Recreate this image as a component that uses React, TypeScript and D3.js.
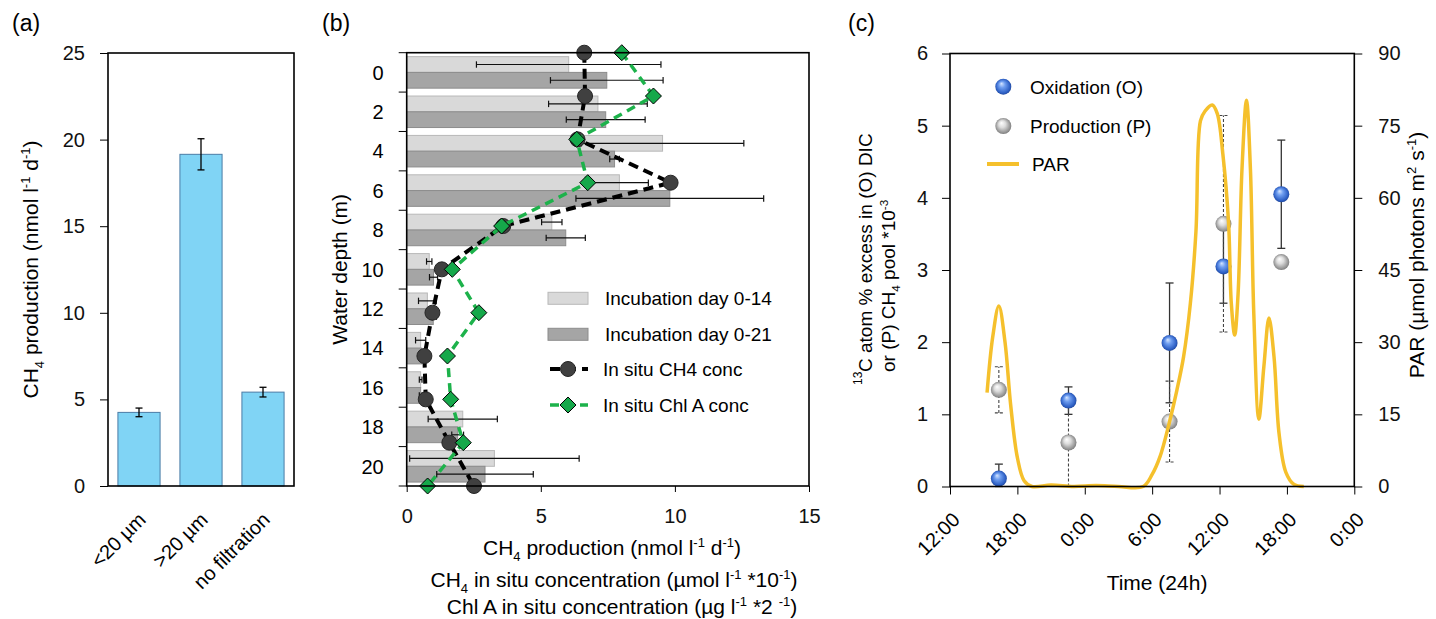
import React, { useEffect, useRef } from "react";
import * as d3 from "d3";

// ---------- (a) size fractions ----------
const fractions = ["<20 µm", ">20 µm", "no filtration"];
const fractionValues = [4.25, 19.15, 5.42];
const fractionErrors = [0.25, 0.9, 0.28];
const fractionTicks = [0, 5, 10, 15, 20, 25];

// ---------- (b) depth profile ----------
const depths = [0, 2, 4, 6, 8, 10, 12, 14, 16, 18, 20];
const day14 = [6.04, 7.13, 9.54, 7.93, 5.41, 0.84, 0.77, 0.52, 0.52, 2.09, 3.27];
const day14Err = [3.44, 1.84, 3.03, 1.08, 0.38, 0.1, 0.33, 0.19, 0.05, 1.29, 3.16];
const day21 = [7.46, 7.42, 7.75, 9.81, 5.93, 1.0, 0.99, 0.56, 0.52, 1.9, 2.92];
const day21Err = [2.1, 1.47, 0.18, 3.5, 0.73, 0.15, 0.12, 0.1, 0.05, 0.22, 1.8];
const ch4Conc = [6.62, 6.65, 6.37, 9.84, 3.6, 1.31, 0.96, 0.66, 0.71, 1.59, 2.51];
const chlA = [8.02, 9.2, 6.34, 6.75, 3.54, 1.7, 2.69, 1.52, 1.64, 2.11, 0.78];
const productionTicks = [0, 5, 10, 15];

// ---------- (c) diel cycle ----------
const timeTicks = ["12:00", "18:00", "0:00", "6:00", "12:00", "18:00", "0:00"];
const sampleHours = [4.35, 10.55, 19.55, 24.35, 29.5];
const oxValues = [0.11, 1.19, 1.99, 3.05, 4.05];
const oxErr = [0.2, 0.19, 0.83, 0.51, 0.75];
const prodValues = [1.34, 0.61, 0.9, 3.64, 3.11];
const prodErr = [0.32, 0.61, 0.56, 1.5, 0];
const parHours = [3.3, 3.8, 4.35, 4.9, 5.4, 6.0, 6.6, 7.3, 9.0, 11.0, 13.0, 15.0, 17.2, 18.0, 18.7, 19.5, 20.2, 20.8, 21.4, 21.9, 22.3, 22.7, 23.35, 23.8, 24.3, 24.8, 25.05, 25.35, 25.65, 26.0, 26.4, 26.75, 27.05, 27.5, 27.95, 28.4, 28.85, 29.3, 29.9, 30.6, 31.5];
const parValues = [19.5, 31, 37.5, 30, 17, 6, 1.2, 0, 0.3, 0, 0.2, 0, 0, 2.5, 6.2, 13, 20, 27, 38, 53, 76, 78, 79.3, 77.5, 69, 55, 38, 31.5, 40, 66, 80.3, 66, 36, 14, 25, 35, 27, 11, 3, 0.5, 0];
const leftTicks = [0, 1, 2, 3, 4, 5, 6];
const parTicks = [0, 15, 30, 45, 60, 75, 90];

const FONT = "'Liberation Sans', Arial, Helvetica, sans-serif";
const TICK_FS = 20;
const TITLE_FS = 21;
const LEGEND_FS = 19;

type Sel = d3.Selection<any, unknown, null, undefined>;

// text with sub/superscripts: parts = [text, 0 normal | 1 sup | -1 sub]
function rich(t: Sel, parts: [string, number][], size: number) {
  let shift = 0;
  parts.forEach(([s, k]) => {
    const target = k === 1 ? -size * 0.38 : k === -1 ? size * 0.28 : 0;
    t.append("tspan")
      .attr("dy", target - shift)
      .attr("font-size", k ? size * 0.62 : size)
      .text(s);
    shift = target;
  });
}

function styleAxis(g: Sel) {
  g.select(".domain").remove();
  g.selectAll(".tick line").attr("stroke", "#000").attr("stroke-width", 1);
  g.selectAll(".tick text").attr("font-size", TICK_FS).attr("font-family", FONT).attr("fill", "#111");
}

function drawA(svg: Sel) {
  const left = 108, right = 294, top = 53, bottom = 486;
  const x = d3.scaleBand().domain(fractions).range([left, right]).paddingInner(0.32).paddingOuter(0.16);
  const y = d3.scaleLinear().domain([0, 25]).range([bottom, top]);
  const g = svg.append("g");

  g.append("g")
    .attr("transform", `translate(${left},0)`)
    .call(d3.axisLeft(y).tickValues(fractionTicks).tickFormat(d3.format("d")).tickSize(8).tickPadding(15))
    .call(styleAxis);

  g.selectAll(".bar")
    .data(fractions)
    .enter()
    .append("rect")
    .attr("x", (d) => x(d)!)
    .attr("y", (d, i) => y(fractionValues[i]))
    .attr("width", x.bandwidth())
    .attr("height", (d, i) => y(0) - y(fractionValues[i]))
    .attr("fill", "#80d4f5")
    .attr("stroke", "#4b7ca6")
    .attr("stroke-width", 1);

  fractions.forEach((d, i) => {
    const cx = x(d)! + x.bandwidth() / 2;
    const lo = y(fractionValues[i] - fractionErrors[i]);
    const hi = y(fractionValues[i] + fractionErrors[i]);
    g.append("line").attr("x1", cx).attr("x2", cx).attr("y1", lo).attr("y2", hi).attr("stroke", "#000").attr("stroke-width", 1.3);
    [lo, hi].forEach((yy) =>
      g.append("line").attr("x1", cx - 3.5).attr("x2", cx + 3.5).attr("y1", yy).attr("y2", yy).attr("stroke", "#000").attr("stroke-width", 1.3)
    );
    g.append("text")
      .attr("transform", `translate(${cx + 8},521) rotate(-45)`)
      .attr("text-anchor", "end")
      .attr("font-size", TICK_FS)
      .text(d);
  });

  g.append("rect").attr("x", left).attr("y", top).attr("width", right - left).attr("height", bottom - top)
    .attr("fill", "none").attr("stroke", "#000").attr("stroke-width", 1.6);

  const t = g.append("text").attr("transform", `translate(38,${(top + bottom) / 2}) rotate(-90)`).attr("text-anchor", "middle");
  rich(t, [["CH", 0], ["4", -1], [" production (nmol l", 0], ["-1", 1], [" d", 0], ["-1", 1], [")", 0]], TITLE_FS);

  svg.append("text").attr("x", 12).attr("y", 31).attr("font-size", 23).text("(a)");
}

function drawB(svg: Sel) {
  const left = 406.7, right = 809, top = 52.7, bottom = 486;
  const x = d3.scaleLinear().domain([0, 15]).range([left, right]);
  const yBand = d3.scaleBand<number>().domain(depths).range([top, bottom]).paddingInner(0.2).paddingOuter(0.1);
  const ySub = d3.scaleBand().domain(["d14", "d21"]).range([0, yBand.bandwidth()]);
  const yPt = d3.scalePoint<number>().domain(depths).range([top, bottom]);
  const g = svg.append("g");

  // category boundary ticks
  const step = yBand.step();
  d3.range(depths.length + 1).forEach((i) => {
    const yy = top + i * step;
    g.append("line").attr("x1", left - 8).attr("x2", left).attr("y1", yy).attr("y2", yy).attr("stroke", "#000");
  });
  depths.forEach((d) => {
    g.append("text")
      .attr("x", left - 23)
      .attr("y", yBand(d)! + yBand.bandwidth() / 2)
      .attr("dy", "0.36em")
      .attr("text-anchor", "end")
      .attr("font-size", TICK_FS)
      .text(d);
  });

  g.append("g")
    .attr("transform", `translate(0,${bottom})`)
    .call(d3.axisBottom(x).tickValues(productionTicks).tickFormat(d3.format("d")).tickSize(6).tickPadding(17))
    .call(styleAxis);

  const series = [
    { key: "d14", vals: day14, err: day14Err, fill: "#d9d9d9", stroke: "#b8b8b8" },
    { key: "d21", vals: day21, err: day21Err, fill: "#a5a5a5", stroke: "#8c8c8c" },
  ];
  series.forEach((s) => {
    g.append("g")
      .selectAll("rect")
      .data(depths)
      .enter()
      .append("rect")
      .attr("x", left)
      .attr("y", (d) => yBand(d)! + ySub(s.key)!)
      .attr("width", (d, i) => x(s.vals[i]) - left)
      .attr("height", ySub.bandwidth())
      .attr("fill", s.fill)
      .attr("stroke", s.stroke)
      .attr("stroke-width", 1);
  });
  series.forEach((s) => {
    depths.forEach((d, i) => {
      const cy = yBand(d)! + ySub(s.key)! + ySub.bandwidth() / 2;
      const a = x(s.vals[i] - s.err[i]);
      const b = x(s.vals[i] + s.err[i]);
      g.append("line").attr("x1", a).attr("x2", b).attr("y1", cy).attr("y2", cy).attr("stroke", "#111").attr("stroke-width", 1.2);
      [a, b].forEach((xx) =>
        g.append("line").attr("x1", xx).attr("x2", xx).attr("y1", cy - 3.2).attr("y2", cy + 3.2).attr("stroke", "#111").attr("stroke-width", 1.2)
      );
    });
  });

  const diamond = (r: number) => `M0,${-r}L${r},0L0,${r}L${-r},0Z`;

  // in situ CH4
  const profileLine = d3.line<number>().x((v) => x(v)).y((v, i) => yPt(depths[i])!);
  g.append("path").datum(ch4Conc).attr("d", profileLine).attr("fill", "none").attr("stroke", "#000").attr("stroke-width", 4).attr("stroke-dasharray", "10,6");
  g.selectAll(".ch4").data(ch4Conc).enter().append("circle")
    .attr("cx", (v) => x(v)).attr("cy", (v, i) => yPt(depths[i])!).attr("r", 7.5)
    .attr("fill", "#404040").attr("stroke", "#262626").attr("stroke-width", 1);

  // in situ Chl A
  g.append("path").datum(chlA).attr("d", profileLine).attr("fill", "none").attr("stroke", "#1db24b").attr("stroke-width", 3.5).attr("stroke-dasharray", "9,6");
  g.selectAll(".chl").data(chlA).enter().append("path")
    .attr("d", diamond(8))
    .attr("transform", (v, i) => `translate(${x(v)},${yPt(depths[i])})`)
    .attr("fill", "#15a84a").attr("stroke", "#000").attr("stroke-width", 1);

  // frame
  g.append("rect").attr("x", left).attr("y", top).attr("width", right - left).attr("height", bottom - top)
    .attr("fill", "none").attr("stroke", "#000").attr("stroke-width", 1.6);

  // legend
  const lg = g.append("g").attr("font-size", LEGEND_FS);
  const lx = 548, lw = 40;
  const rows = [292.3, 328.3];
  series.forEach((s, i) => {
    lg.append("rect").attr("x", lx).attr("y", rows[i]).attr("width", lw).attr("height", 12).attr("fill", s.fill).attr("stroke", s.stroke);
  });
  lg.append("text").attr("x", 605).attr("y", rows[0] + 6).attr("dy", "0.36em").text("Incubation day 0-14");
  lg.append("text").attr("x", 605).attr("y", rows[1] + 6).attr("dy", "0.36em").text("Incubation day 0-21");
  lg.append("line").attr("x1", lx).attr("x2", lx + lw).attr("y1", 369).attr("y2", 369).attr("stroke", "#000").attr("stroke-width", 4).attr("stroke-dasharray", "10,6").attr("stroke-dashoffset", -2);
  lg.append("circle").attr("cx", lx + lw / 2).attr("cy", 369).attr("r", 7.5).attr("fill", "#404040").attr("stroke", "#262626");
  lg.append("text").attr("x", 603).attr("y", 369).attr("dy", "0.36em").text("In situ CH4 conc");
  lg.append("line").attr("x1", lx).attr("x2", lx + lw).attr("y1", 405).attr("y2", 405).attr("stroke", "#1db24b").attr("stroke-width", 3.5).attr("stroke-dasharray", "9,6").attr("stroke-dashoffset", -2);
  lg.append("path").attr("d", diamond(8)).attr("transform", `translate(${lx + lw / 2},405)`).attr("fill", "#15a84a").attr("stroke", "#000");
  lg.append("text").attr("x", 603).attr("y", 405).attr("dy", "0.36em").text("In situ Chl A conc");

  // titles
  const t1 = g.append("text").attr("x", 612).attr("y", 555).attr("text-anchor", "middle");
  rich(t1, [["CH", 0], ["4", -1], [" production (nmol l", 0], ["-1", 1], [" d", 0], ["-1", 1], [")", 0]], TITLE_FS);
  const t2 = g.append("text").attr("x", 614).attr("y", 587).attr("text-anchor", "middle");
  rich(t2, [["CH", 0], ["4", -1], [" in situ concentration (µmol l", 0], ["-1", 1], ["  *10", 0], ["-1", 1], [")", 0]], TITLE_FS);
  const t3 = g.append("text").attr("x", 622).attr("y", 614).attr("text-anchor", "middle");
  rich(t3, [["Chl A in situ concentration (µg l", 0], ["-1", 1], [" *2 ", 0], ["-1", 1], [")", 0]], TITLE_FS);

  g.append("text").attr("transform", `translate(347,${(top + bottom) / 2}) rotate(-90)`).attr("text-anchor", "middle").attr("font-size", TITLE_FS).text("Water depth (m)");

  svg.append("text").attr("x", 322).attr("y", 31).attr("font-size", 23).text("(b)");
}

function drawC(svg: Sel) {
  const left = 950, right = 1354.3, top = 53.5, bottom = 486.5;
  const x = d3.scaleLinear().domain([0, 36]).range([left, right]);
  const y = d3.scaleLinear().domain([0, 6]).range([bottom, top]);
  const yPar = d3.scaleLinear().domain([0, 90]).range([bottom, top]);
  const g = svg.append("g");

  const defs = svg.append("defs");
  const grad = (id: string, stops: [string, string][]) => {
    const rg = defs.append("radialGradient").attr("id", id).attr("cx", "50%").attr("cy", "50%").attr("r", "55%").attr("fx", "38%").attr("fy", "30%");
    stops.forEach(([o, c]) => rg.append("stop").attr("offset", o).attr("stop-color", c));
  };
  grad("blueBall", [["0%", "#d6e6ff"], ["35%", "#6f9ef0"], ["80%", "#2d5fc4"], ["100%", "#1d3f8a"]]);
  grad("greyBall", [["0%", "#ffffff"], ["40%", "#dcdcdc"], ["85%", "#8f8f8f"], ["100%", "#6b6b6b"]]);

  g.append("g")
    .attr("transform", `translate(${left},0)`)
    .call(d3.axisLeft(y).tickValues(leftTicks).tickFormat(d3.format("d")).tickSize(8).tickPadding(14))
    .call(styleAxis);
  g.append("g")
    .attr("transform", `translate(${right},0)`)
    .call(d3.axisRight(yPar).tickValues(parTicks).tickFormat(d3.format("d")).tickSize(8).tickPadding(16))
    .call(styleAxis);
  const xTickVals = d3.range(timeTicks.length).map((i) => i * 6);
  g.append("g")
    .attr("transform", `translate(0,${bottom})`)
    .call(d3.axisBottom(x).tickValues(xTickVals).tickSize(8).tickFormat(() => ""))
    .call(styleAxis);
  xTickVals.forEach((h, i) => {
    g.append("text")
      .attr("transform", `translate(${x(h) + 11},521) rotate(-45)`)
      .attr("text-anchor", "end")
      .attr("font-size", TICK_FS)
      .text(timeTicks[i]);
  });

  const errBar = (h: number, v: number, e: number, dashed: boolean) => {
    if (!e) return;
    const cx = x(h);
    const lo = y(Math.max(0, v - e));
    const hi = y(v + e);
    const st = (sel: Sel) => {
      sel.attr("stroke", dashed ? "#444" : "#333").attr("stroke-width", dashed ? 1.1 : 1.3);
      if (dashed) sel.attr("stroke-dasharray", "3,2");
      return sel;
    };
    st(g.append("line").attr("x1", cx).attr("x2", cx).attr("y1", lo).attr("y2", hi));
    [lo, hi].forEach((yy) => st(g.append("line").attr("x1", cx - 4).attr("x2", cx + 4).attr("y1", yy).attr("y2", yy)));
  };
  sampleHours.forEach((h, i) => errBar(h, oxValues[i], oxErr[i], false));
  sampleHours.forEach((h, i) => errBar(h, prodValues[i], prodErr[i], true));

  g.selectAll(".prod").data(prodValues).enter().append("circle")
    .attr("cx", (v, i) => x(sampleHours[i])).attr("cy", (v) => y(v)).attr("r", 8)
    .attr("fill", "url(#greyBall)");
  g.selectAll(".ox").data(oxValues).enter().append("circle")
    .attr("cx", (v, i) => x(sampleHours[i])).attr("cy", (v) => y(v)).attr("r", 8)
    .attr("fill", "url(#blueBall)");

  const parLine = d3.line<number>()
    .x((h) => x(h))
    .y((h, i) => yPar(parValues[i]))
    .curve(d3.curveCatmullRom.alpha(0.5));
  g.append("path").datum(parHours).attr("d", parLine).attr("fill", "none").attr("stroke", "#f5c02c").attr("stroke-width", 3.5).attr("stroke-linejoin", "round");

  // frame
  g.append("rect").attr("x", left).attr("y", top).attr("width", right - left).attr("height", bottom - top)
    .attr("fill", "none").attr("stroke", "#000").attr("stroke-width", 1.6);

  // legend
  const lg = g.append("g").attr("font-size", LEGEND_FS);
  lg.append("circle").attr("cx", 1003.3).attr("cy", 86.7).attr("r", 8).attr("fill", "url(#blueBall)");
  lg.append("text").attr("x", 1030).attr("y", 86.7).attr("dy", "0.36em").text("Oxidation (O)");
  lg.append("circle").attr("cx", 1003.3).attr("cy", 126).attr("r", 8).attr("fill", "url(#greyBall)");
  lg.append("text").attr("x", 1030).attr("y", 126).attr("dy", "0.36em").text("Production (P)");
  lg.append("line").attr("x1", 987).attr("x2", 1019).attr("y1", 164).attr("y2", 164).attr("stroke", "#f5c02c").attr("stroke-width", 4);
  lg.append("text").attr("x", 1032).attr("y", 164).attr("dy", "0.36em").text("PAR");

  // axis titles
  g.append("text").attr("transform", `translate(872,372) rotate(-90)`).attr("font-size", 19).text("C atom % excess in (O) DIC");
  g.append("text").attr("transform", `translate(862,385) rotate(-90)`).attr("font-size", 12).text("13");
  const t2 = g.append("text").attr("transform", `translate(895,372) rotate(-90)`);
  rich(t2, [["or (P) CH", 0], ["4", -1], [" pool *10", 0], ["-3", 1]], 19);
  const tr = g.append("text").attr("transform", `translate(1424,${(top + bottom) / 2 - 15}) rotate(-90)`).attr("text-anchor", "middle");
  rich(tr, [["PAR (µmol photons m", 0], ["2", 1], [" s", 0], ["-1", 1], [")", 0]], TITLE_FS);
  g.append("text").attr("x", 1157).attr("y", 590).attr("text-anchor", "middle").attr("font-size", TITLE_FS).text("Time (24h)");

  svg.append("text").attr("x", 848).attr("y", 31).attr("font-size", 23).text("(c)");
}

export default function App() {
  const ref = useRef<SVGSVGElement>(null);
  useEffect(() => {
    const svg = d3.select(ref.current) as unknown as Sel;
    svg.selectAll("*").remove();
    drawA(svg);
    drawB(svg);
    drawC(svg);
  }, []);
  return (
    <svg
      ref={ref}
      width={1436}
      height={619}
      style={{ position: "absolute", left: 0, top: 0, fontFamily: FONT, background: "#fff" }}
    />
  );
}
